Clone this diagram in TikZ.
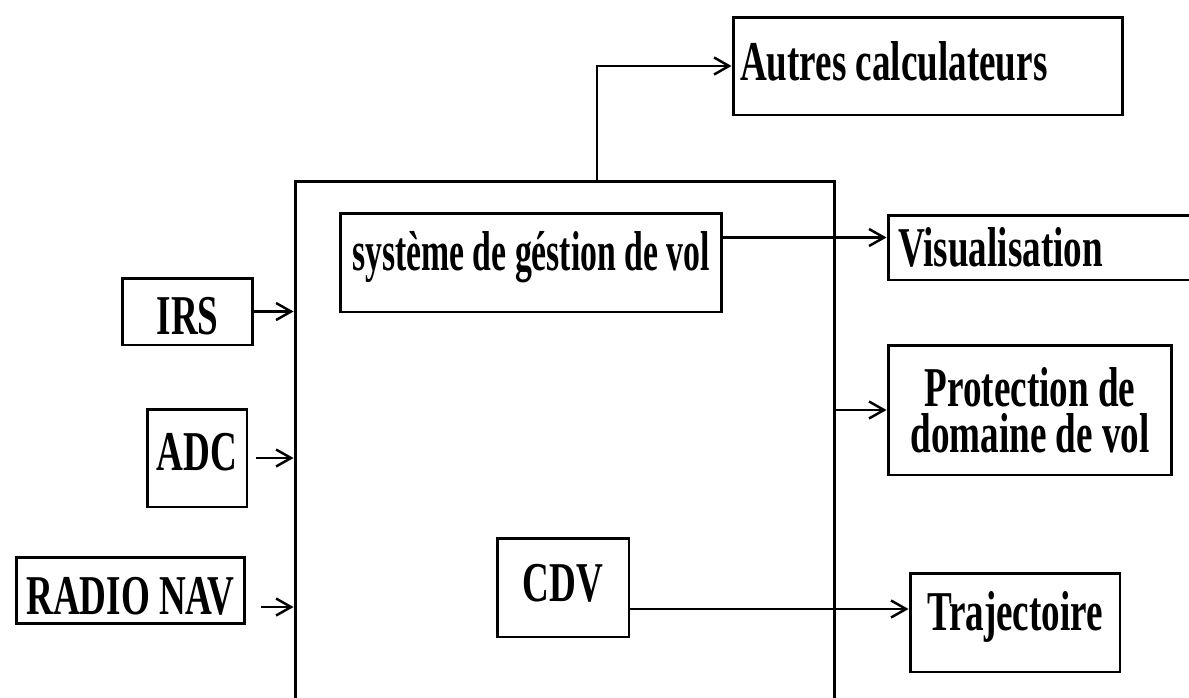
\documentclass[tikz,border=0pt]{standalone}
\usepackage{fontspec}
\newfontfamily\boxfont{Liberation Serif}[FakeStretch=0.66]
\newfontfamily\narrowboxfont{Liberation Serif}[FakeStretch=0.6]
\usetikzlibrary{arrows.meta,calc}
\tikzset{
  box/.style={draw, line width=1.7pt, inner sep=0pt, align=center,
              font={\boxfont\bfseries\fontsize{32}{26}\selectfont}},
  feed/.style={-{Straight Barb[length=3mm,width=3.4mm]}, line width=1.4pt},
}

\begin{document}
\begin{tikzpicture}[x=0.02cm,y=-0.02cm]
  \useasboundingbox (0,0) rectangle (1189,697);
  % calculateur central, ouvert en bas
  \node[draw, line width=1.7pt, minimum width=10.8cm, minimum height=11.16cm] (fms) at (565,460) {};
  \node[box, minimum width=7.64cm, minimum height=1.98cm, text depth=13.2pt,
        font={\narrowboxfont\bfseries\fontsize{32}{26}\selectfont}] (sgv) at (531,262.5) {système de géstion de vol};
  \node[box, minimum width=2.64cm, minimum height=1.98cm, text depth=4.7pt] (cdv) at (563,587.5) {CDV};
  % entrees
  \node[box, minimum width=2.62cm, minimum height=1.34cm, text height=26.8pt] (irs) at (187.5,311.5) {IRS};
  \node[box, minimum width=2cm, minimum height=1.96cm, text depth=7.5pt] (adc) at (197,458) {ADC};
  \node[box, minimum width=4.58cm, minimum height=1.32cm, text height=28.5pt] (radio) at (130.5,590) {RADIO NAV};
  % sorties
  \node[box, minimum height=1.96cm, text depth=5.7pt] (autres) at (928,66)
    {\makebox[7.8cm][l]{\hspace{0.14cm}Autres calculateurs}};
  \node[box, minimum height=1.3cm] (visu) at (1044,247.5)
    {\makebox[6.24cm][l]{\hspace{0.2cm}Visualisation}};
  \node[box, minimum width=5.68cm, minimum height=2.6cm] (prot) at (1030,410) {Protection de\\domaine de vol};
  \node[box, minimum width=4.2cm, minimum height=1.98cm, text depth=13.2pt] (traj) at (1015,622.5) {Trajectoire};

  \draw[feed] (irs.east) -- (irs.east -| fms.west);
  \draw[feed, shorten <=0.16cm] (adc.east) -- (adc.east -| fms.west);
  \coordinate (rn) at ($(radio.east)+(15,17)$);
  \draw[feed] (rn) -- (rn -| fms.west);
  \coordinate (up) at ($(fms.north)+(32,0)$);
  \draw[feed] (up) |- (autres.west);
  \coordinate (sv) at ($(sgv.east)+(0,-25)$);
  \draw[feed] (sv) -- (sv -| visu.west);
  \draw[feed] (prot.west -| fms.east) -- (prot.west);
  \coordinate (cd) at ($(cdv.east)+(0,21.5)$);
  \draw[feed] (cd) -- (cd -| traj.west);
\end{tikzpicture}
\end{document}
